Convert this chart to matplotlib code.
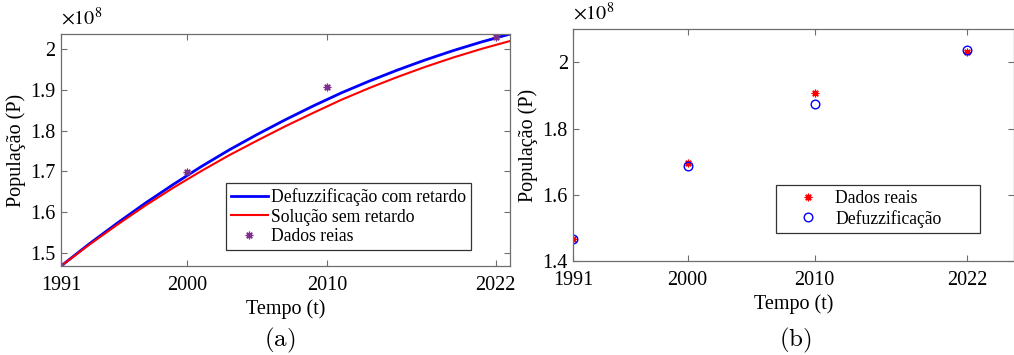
import matplotlib
matplotlib.use("Agg")
import matplotlib.pyplot as plt

plt.rcParams["font.family"] = ["Liberation Serif", "DejaVu Serif"]
plt.rcParams["mathtext.fontset"] = "stix"

# population in units of 1e8
anos_censo = [1991, 2000, 2010, 2022]
dados_reais = [1.468, 1.698, 1.9076, 2.0306]
defuzz_pontos = [1.468, 1.688, 1.875, 2.037]

anos_curva = [1991, 1993, 1995, 1997, 1999, 2001, 2003, 2005, 2007,
              2009, 2011, 2013, 2015, 2017, 2019, 2021, 2023]
defuzz_retardo = [1.468, 1.522, 1.573, 1.622, 1.668, 1.712, 1.753, 1.791, 1.827,
                  1.861, 1.893, 1.922, 1.949, 1.974, 1.997, 2.018, 2.037]
sem_retardo = [1.468, 1.520, 1.569, 1.616, 1.660, 1.701, 1.740, 1.776, 1.811,
               1.844, 1.876, 1.905, 1.932, 1.957, 1.980, 2.001, 2.020]

xticks = [1991, 2000, 2010, 2022]
yticks_a = [1.5, 1.6, 1.7, 1.8, 1.9, 2.0]
ylabels_a = ["1.5", "1.6", "1.7", "1.8", "1.9", "2"]
yticks_b = [1.4, 1.6, 1.8, 2.0]
ylabels_b = ["1.4", "1.6", "1.8", "2"]

roxo = "#7E2F8E"
eixo = "#6e6e6e"
fs = 14.5
asterisco = (8, 2, 0)

fig = plt.figure(figsize=(10.14, 3.55), dpi=100)
ax1 = fig.add_axes([0.0602, 0.2507, 0.4423, 0.6535])
ax2 = fig.add_axes([0.5654, 0.2639, 0.4345, 0.6535])


def estilo(ax):
    for s in ax.spines.values():
        s.set_color(eixo)
        s.set_linewidth(0.9)
    ax.tick_params(direction="in", top=True, right=True, length=4,
                   color=eixo, labelsize=fs)
    ax.tick_params(axis="x", pad=7)
    ax.tick_params(axis="y", pad=4)
    ax.set_xticks(xticks)
    ax.set_xticklabels([str(t) for t in xticks])


# (a) curves + census data
ax1.plot(anos_curva, defuzz_retardo, color="#0000ff", lw=2.0,
         label="Defuzzificação com retardo")
ax1.plot(anos_curva, sem_retardo, color="#ff0000", lw=1.5,
         label="Solução sem retardo")
ax1.plot(anos_censo, dados_reais, marker=asterisco, color=roxo, ms=5.5, mew=0.9,
         linestyle="none", label="Dados reias")
ax1.set_xlim(1991, 2023)
ax1.set_ylim(1.468, 2.0375)
estilo(ax1)
ax1.set_yticks(yticks_a)
ax1.set_yticklabels(ylabels_a)
ax1.set_xlabel("Tempo (t)", fontsize=fs, labelpad=3)
ax1.set_ylabel("População (P)", fontsize=fs, labelpad=3)
ax1.text(0.0, 1.02, r"$\times10^{8}$", transform=ax1.transAxes,
         fontsize=fs, ha="left", va="bottom")
leg1 = ax1.legend(loc="upper left", bbox_to_anchor=(0.368, 0.358),
                  fontsize=12.7, handlelength=2.05, handletextpad=0.2,
                  labelspacing=0.14, borderpad=0.3, borderaxespad=0,
                  fancybox=False, framealpha=1, edgecolor="#333333")
leg1.get_frame().set_linewidth(0.9)

# (b) census data vs defuzzified values
ax2.plot(anos_censo, dados_reais, marker=asterisco, color="#ff0000", ms=5.5,
         mew=0.9, linestyle="none", label="Dados reais")
ax2.plot(anos_censo, defuzz_pontos, "o", mfc="none", mec="#0000ff", ms=6.2,
         mew=1.0, linestyle="none", label="Defuzzificação")
ax2.set_xlim(1991, 2025.7)
ax2.set_ylim(1.4, 2.1)
estilo(ax2)
ax2.set_yticks(yticks_b)
ax2.set_yticklabels(ylabels_b)
ax2.set_xlabel("Tempo (t)", fontsize=fs, labelpad=3)
ax2.set_ylabel("População (P)", fontsize=fs, labelpad=3)
ax2.text(0.0, 1.02, r"$\times10^{8}$", transform=ax2.transAxes,
         fontsize=fs, ha="left", va="bottom")
leg2 = ax2.legend(loc="upper left", bbox_to_anchor=(0.4605, 0.329, 0.4635, 0.0),
                  mode="expand", fontsize=12.7, handlelength=3.0,
                  handletextpad=0.05, labelspacing=0.14, borderpad=0.3,
                  borderaxespad=0, fancybox=False, framealpha=1,
                  edgecolor="#333333")
leg2.get_frame().set_linewidth(0.9)

fig.text(0.276, 0.04, r"$\mathrm{(a)}$", fontsize=18, ha="center",
         va="center", math_fontfamily="cm")
fig.text(0.784, 0.04, r"$\mathrm{(b)}$", fontsize=18, ha="center",
         va="center", math_fontfamily="cm")

fig.savefig("out.png", dpi=100)
